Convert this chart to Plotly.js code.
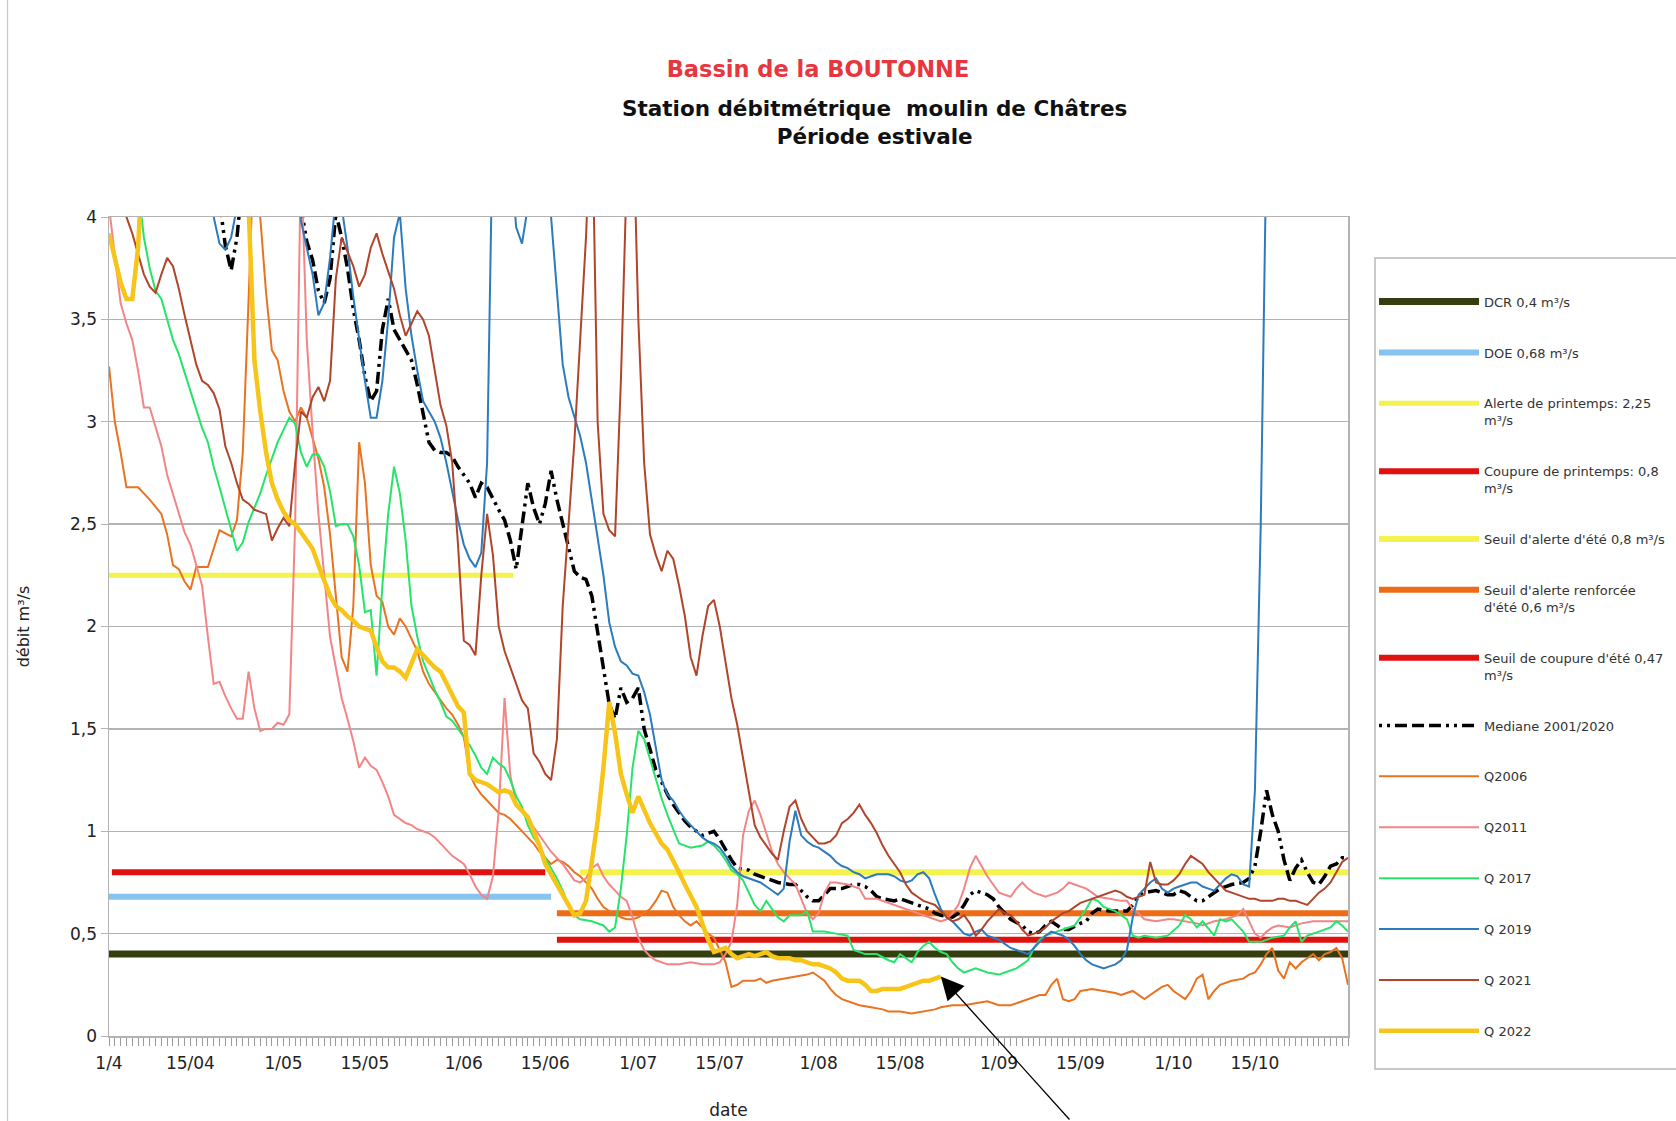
<!DOCTYPE html>
<html><head><meta charset="utf-8">
<script src="https://cdn.plot.ly/plotly-3.0.1.min.js"></script>
<style>html,body{margin:0;padding:0;background:#fff;}#chart{width:1676px;height:1121px;}</style>
</head><body><div id="chart"></div>
<script>
// ---------- DATA (day offsets from 1 April) ----------
const tickDays = [0,14,30,44,61,75,91,105,122,136,153,167,183,197];
const tickLabels = ['1/4','15/04','1/05','15/05','1/06','15/06','1/07','15/07','1/08','15/08','1/09','15/09','1/10','15/10'];

const thresholdNames = ['DCR 0,4 m³/s','DOE 0,68 m³/s','Alerte de printemps: 2,25<br>m³/s','Coupure de printemps: 0,8<br>m³/s',"Seuil d'alerte d'été 0,8 m³/s","Seuil d'alerte renforcée<br>d'été 0,6 m³/s","Seuil de coupure d'été 0,47<br>m³/s"];
const thresholdValues = [0.4, 0.68, 2.25, 0.8, 0.8, 0.6, 0.47];
const thresholdStartDays = [0, 0, 0, 0.5, 81, 77, 77];
const thresholdEndDays = [213, 76, 69.5, 75, 213, 213, 213];

const seriesNames = ['Mediane 2001/2020','Q2006','Q2011','Q 2017','Q 2019','Q 2021','Q 2022'];

const medianDays = [18,20,21,22,23,32,33,34,35,36,37,38,39,40,41,42,43,44,45,46,47,48,49,50,51,52,53,54,55,56,57,58,59,60,61,62,63,64,65,66,67,68,69,70,71,72,73,74,75,76,77,78,79,80,81,82,83,84,85,86,87,88,89,90,91,92,93,94,95,96,97,98,99,100,101,102,103,104,105,106,107,108,110,111,113,115,117,118,119,120,121,122,123,124,126,128,129,130,131,132,133,135,136,137,139,141,142,143,145,146,147,148,149,150,151,152,153,154,155,157,158,159,160,161,162,163,164,165,167,168,169,170,172,175,176,177,178,180,182,183,184,185,186,187,188,189,190,191,193,195,196,197,198,199,200,201,202,203,204,205,206,207,208,209,210,211,212,213];
const medianVals = [4.3,3.86,3.74,3.9,4.2,4.3,4.05,3.88,3.79,3.64,3.58,3.7,4.02,3.9,3.75,3.55,3.4,3.22,3.1,3.15,3.45,3.6,3.45,3.4,3.35,3.3,3.18,3.05,2.9,2.86,2.85,2.85,2.83,2.78,2.74,2.7,2.63,2.7,2.68,2.62,2.57,2.52,2.42,2.28,2.48,2.7,2.58,2.5,2.6,2.76,2.62,2.5,2.38,2.27,2.24,2.23,2.15,1.97,1.8,1.62,1.55,1.7,1.63,1.65,1.7,1.5,1.4,1.3,1.24,1.18,1.13,1.09,1.05,1.02,1.0,0.98,0.99,1.0,0.96,0.91,0.86,0.82,0.81,0.79,0.77,0.75,0.74,0.74,0.71,0.68,0.66,0.66,0.69,0.72,0.72,0.74,0.74,0.73,0.71,0.68,0.67,0.66,0.67,0.66,0.64,0.62,0.6,0.59,0.58,0.6,0.64,0.69,0.71,0.7,0.69,0.67,0.63,0.6,0.57,0.54,0.51,0.5,0.51,0.54,0.56,0.54,0.52,0.52,0.55,0.56,0.6,0.62,0.61,0.61,0.64,0.68,0.7,0.71,0.69,0.69,0.71,0.7,0.68,0.66,0.66,0.68,0.7,0.72,0.74,0.75,0.77,0.83,1.0,1.2,1.08,1.0,0.86,0.76,0.82,0.86,0.8,0.75,0.74,0.78,0.83,0.84,0.87,0.87];

const q2006Days = [0,1,2,3,5,7,9,10,11,12,13,14,15,17,19,21,22,23,24,25,26,27,28,29,30,31,32,33,34,35,36,37,38,39,40,41,42,43,44,45,46,47,48,49,50,51,52,53,54,55,56,57,58,59,60,61,62,63,64,65,66,67,68,69,70,71,72,73,74,75,76,77,78,79,80,81,82,83,84,85,86,87,88,89,90,91,92,93,94,95,96,97,98,99,100,101,102,103,104,105,106,107,108,109,111,112,113,114,116,118,120,121,122,123,124,125,126,127,129,131,133,134,136,138,140,142,143,145,147,149,151,153,155,157,158,159,160,161,162,163,164,165,166,167,169,171,173,174,176,178,180,181,182,183,184,185,186,187,188,189,190,191,193,195,196,197,198,199,200,201,202,203,204,205,206,207,208,209,210,211,212,213];
const q2006Vals = [3.27,3.0,2.85,2.68,2.68,2.62,2.55,2.45,2.3,2.28,2.22,2.18,2.29,2.29,2.47,2.44,2.52,2.85,3.6,4.4,4.0,3.63,3.35,3.3,3.15,3.05,3.0,3.07,3.02,2.92,2.82,2.68,2.45,2.15,1.85,1.78,2.1,2.9,2.7,2.3,2.15,2.12,2.0,1.96,2.04,2.0,1.94,1.88,1.78,1.72,1.68,1.64,1.6,1.57,1.52,1.46,1.28,1.22,1.18,1.15,1.12,1.09,1.08,1.06,1.03,1.0,0.97,0.94,0.9,0.87,0.84,0.86,0.85,0.83,0.8,0.78,0.75,0.72,0.67,0.63,0.61,0.6,0.58,0.57,0.57,0.58,0.6,0.62,0.66,0.71,0.7,0.63,0.59,0.56,0.54,0.56,0.53,0.5,0.48,0.42,0.36,0.24,0.25,0.27,0.27,0.28,0.26,0.27,0.28,0.29,0.3,0.31,0.29,0.27,0.23,0.2,0.18,0.17,0.15,0.14,0.13,0.12,0.12,0.11,0.12,0.13,0.14,0.15,0.15,0.16,0.17,0.15,0.15,0.17,0.18,0.19,0.2,0.2,0.25,0.28,0.18,0.17,0.18,0.22,0.23,0.22,0.21,0.2,0.22,0.18,0.22,0.24,0.25,0.22,0.2,0.18,0.22,0.28,0.3,0.18,0.22,0.25,0.27,0.28,0.3,0.31,0.35,0.4,0.43,0.32,0.28,0.36,0.33,0.36,0.38,0.4,0.37,0.4,0.41,0.43,0.38,0.25];

const q2011Days = [0,1,2,3,4,5,6,7,8,9,10,11,12,13,14,15,16,17,18,19,20,21,22,23,24,25,26,27,28,29,30,31,32,33,34,35,36,37,38,39,40,41,42,43,44,45,46,47,48,49,50,51,52,53,54,55,56,57,58,59,60,61,62,63,64,65,66,67,68,69,70,71,72,73,74,75,76,77,78,79,80,81,82,83,84,85,86,87,88,89,90,91,92,93,94,95,96,98,100,102,104,105,106,107,108,109,110,111,112,113,114,115,116,117,118,119,120,121,122,123,124,125,127,129,130,132,134,136,138,140,142,143,144,145,146,147,148,149,150,151,152,153,155,156,157,158,159,161,163,164,165,166,168,169,170,172,174,175,176,177,178,180,182,183,185,187,188,190,192,194,195,196,197,198,199,200,201,203,205,207,210,213];
const q2011Vals = [4.05,3.82,3.58,3.48,3.4,3.25,3.07,3.07,2.97,2.88,2.74,2.65,2.56,2.46,2.4,2.3,2.2,1.95,1.72,1.73,1.66,1.6,1.55,1.55,1.78,1.6,1.49,1.5,1.5,1.53,1.52,1.57,2.5,4.3,3.4,2.95,2.55,2.25,1.95,1.8,1.65,1.55,1.44,1.31,1.36,1.32,1.3,1.24,1.17,1.08,1.06,1.04,1.03,1.01,1.0,0.99,0.97,0.94,0.91,0.88,0.86,0.84,0.79,0.73,0.69,0.67,0.78,1.1,1.65,1.27,1.14,1.1,1.06,1.02,0.98,0.94,0.9,0.87,0.84,0.8,0.76,0.75,0.77,0.82,0.84,0.78,0.74,0.71,0.68,0.66,0.58,0.48,0.42,0.39,0.37,0.36,0.35,0.35,0.36,0.35,0.35,0.36,0.4,0.46,0.64,0.98,1.1,1.15,1.08,0.99,0.9,0.84,0.8,0.77,0.74,0.67,0.6,0.57,0.6,0.7,0.75,0.75,0.74,0.72,0.67,0.67,0.65,0.63,0.61,0.59,0.57,0.56,0.57,0.6,0.64,0.72,0.82,0.88,0.83,0.78,0.74,0.7,0.68,0.72,0.75,0.72,0.7,0.68,0.7,0.72,0.75,0.74,0.72,0.7,0.68,0.67,0.66,0.66,0.62,0.6,0.57,0.56,0.57,0.57,0.56,0.55,0.54,0.56,0.57,0.59,0.62,0.56,0.5,0.48,0.51,0.53,0.54,0.53,0.55,0.56,0.56,0.56];

const q2017Days = [4,6,7,8,9,10,11,12,13,14,15,16,17,18,19,20,21,22,23,24,25,26,27,28,29,30,31,32,33,34,35,36,37,38,39,40,41,42,43,44,45,46,47,48,49,50,51,52,53,54,55,56,57,58,59,60,61,62,63,64,65,66,67,68,69,70,71,72,73,74,75,76,77,78,79,80,81,83,85,86,87,88,89,90,91,92,93,94,95,96,97,98,100,102,103,104,105,106,107,108,109,110,111,112,113,114,115,116,117,119,120,121,123,125,127,128,130,132,134,135,136,137,138,139,140,141,142,143,144,145,146,147,149,151,153,154,156,157,158,159,160,161,163,165,166,167,168,169,170,171,172,173,175,176,177,178,180,182,184,185,186,187,188,190,191,192,193,194,195,196,198,200,202,203,204,205,206,208,210,211,212,213];
const q2017Vals = [4.4,3.9,3.75,3.64,3.6,3.5,3.4,3.33,3.24,3.15,3.05,2.97,2.9,2.78,2.68,2.58,2.48,2.37,2.41,2.51,2.58,2.65,2.74,2.82,2.9,2.96,3.02,2.99,2.85,2.78,2.84,2.84,2.78,2.66,2.49,2.5,2.5,2.44,2.3,2.07,2.08,1.76,2.2,2.55,2.78,2.65,2.42,2.1,1.95,1.83,1.76,1.69,1.63,1.56,1.54,1.5,1.46,1.42,1.37,1.31,1.28,1.36,1.33,1.31,1.25,1.17,1.12,1.03,0.97,0.93,0.87,0.82,0.77,0.71,0.64,0.59,0.57,0.56,0.54,0.51,0.53,0.72,0.98,1.31,1.49,1.45,1.35,1.25,1.16,1.08,1.01,0.94,0.92,0.93,0.95,0.93,0.9,0.86,0.81,0.79,0.76,0.7,0.64,0.61,0.66,0.62,0.58,0.56,0.59,0.59,0.61,0.51,0.51,0.5,0.49,0.42,0.4,0.4,0.37,0.36,0.4,0.38,0.36,0.41,0.44,0.46,0.43,0.41,0.4,0.36,0.33,0.31,0.33,0.31,0.3,0.31,0.33,0.35,0.37,0.43,0.47,0.49,0.51,0.53,0.54,0.58,0.62,0.67,0.66,0.63,0.62,0.61,0.57,0.49,0.48,0.49,0.48,0.49,0.54,0.59,0.57,0.53,0.56,0.49,0.57,0.56,0.57,0.54,0.51,0.46,0.46,0.48,0.49,0.53,0.56,0.46,0.49,0.51,0.53,0.56,0.54,0.51];

const q2019Days = [16,18,19,20,21,22,24,32,33,34,35,36,37,38,39,40,41,42,43,44,45,46,47,48,49,50,51,52,53,54,55,56,57,58,59,60,61,62,63,64,65,66,69,70,71,72,73,75,76,77,78,79,80,81,82,83,84,85,86,87,88,89,90,91,92,93,94,95,96,97,98,99,100,101,102,103,104,105,106,107,108,109,110,111,112,113,114,115,116,117,118,119,120,121,122,123,124,125,126,127,128,129,130,131,132,134,135,136,137,138,139,140,141,142,143,144,145,146,147,148,149,150,151,152,153,154,155,156,157,158,159,160,161,162,163,164,165,166,167,168,169,170,171,172,173,174,175,176,177,178,179,180,181,182,183,184,185,186,187,188,189,190,191,192,193,194,195,196,197,198,199];
const q2019Vals = [4.4,4.0,3.87,3.84,3.9,4.05,4.5,4.4,3.98,3.85,3.72,3.52,3.58,3.8,4.1,4.05,3.85,3.61,3.4,3.2,3.02,3.02,3.2,3.5,3.9,4.02,3.65,3.42,3.25,3.1,3.05,3.0,2.92,2.8,2.66,2.52,2.4,2.33,2.29,2.36,2.8,4.5,4.3,3.95,3.87,4.05,4.4,4.4,4.0,3.65,3.28,3.12,3.03,2.93,2.8,2.62,2.45,2.25,2.02,1.9,1.83,1.81,1.77,1.76,1.68,1.57,1.41,1.25,1.18,1.15,1.1,1.06,1.03,1.0,0.97,0.95,0.94,0.92,0.88,0.83,0.8,0.78,0.77,0.76,0.75,0.73,0.71,0.69,0.72,0.95,1.1,0.98,0.95,0.93,0.92,0.9,0.88,0.85,0.83,0.82,0.8,0.79,0.77,0.78,0.79,0.79,0.78,0.76,0.75,0.76,0.79,0.8,0.77,0.69,0.62,0.58,0.56,0.53,0.5,0.49,0.51,0.52,0.49,0.48,0.47,0.45,0.43,0.42,0.41,0.4,0.43,0.46,0.49,0.51,0.5,0.49,0.47,0.44,0.4,0.37,0.35,0.34,0.33,0.34,0.35,0.37,0.42,0.58,0.69,0.72,0.75,0.77,0.72,0.7,0.72,0.73,0.74,0.75,0.75,0.73,0.72,0.71,0.74,0.77,0.79,0.78,0.74,0.73,1.2,2.5,4.4];

const q2021Days = [1,3,4,5,6,7,8,9,10,11,12,13,14,15,16,17,18,19,20,21,22,23,24,25,26,27,28,29,30,31,32,33,34,35,36,37,38,39,40,41,42,43,44,45,46,47,48,49,50,51,52,53,54,55,56,57,58,59,60,61,62,63,64,65,66,67,68,69,70,71,72,73,74,75,76,77,78,79,80,81,82,83,84,85,86,87,88,89,90,91,92,93,94,95,96,97,98,99,100,101,102,103,104,105,106,107,108,109,110,111,112,113,114,115,116,117,118,119,120,121,122,123,124,125,126,127,128,129,130,131,132,133,134,135,136,137,138,139,140,141,142,143,144,145,146,147,148,149,150,151,152,153,154,155,156,157,158,159,160,161,162,163,164,165,166,167,168,169,170,171,172,173,174,175,176,177,178,179,180,181,182,183,184,185,186,187,188,189,190,191,192,193,194,195,196,197,198,199,200,201,202,203,204,205,206,207,208,209,210,211,212,213];
const q2021Vals = [4.3,4.0,3.92,3.82,3.72,3.66,3.63,3.72,3.8,3.76,3.65,3.52,3.4,3.28,3.2,3.18,3.14,3.06,2.88,2.8,2.7,2.62,2.6,2.57,2.56,2.55,2.42,2.48,2.53,2.49,2.8,3.05,3.02,3.12,3.17,3.1,3.2,3.7,3.9,3.83,3.76,3.66,3.72,3.85,3.92,3.82,3.73,3.65,3.52,3.42,3.48,3.54,3.5,3.42,3.25,3.08,2.98,2.8,2.4,1.93,1.91,1.86,2.25,2.55,2.35,2.0,1.88,1.8,1.72,1.64,1.6,1.38,1.34,1.28,1.25,1.45,2.1,2.5,2.9,3.4,3.9,4.6,3.0,2.55,2.47,2.44,3.2,4.2,4.6,3.5,2.8,2.45,2.35,2.27,2.37,2.33,2.2,2.05,1.85,1.76,1.95,2.1,2.13,2.0,1.83,1.65,1.52,1.35,1.18,1.03,0.97,0.93,0.89,0.86,1.0,1.12,1.15,1.06,1.0,0.97,0.94,0.94,0.95,0.98,1.04,1.06,1.09,1.13,1.08,1.04,0.99,0.93,0.88,0.84,0.8,0.74,0.7,0.68,0.66,0.65,0.64,0.61,0.58,0.56,0.57,0.59,0.55,0.49,0.52,0.56,0.59,0.62,0.6,0.59,0.56,0.52,0.49,0.5,0.51,0.53,0.56,0.58,0.6,0.61,0.63,0.65,0.66,0.67,0.68,0.69,0.7,0.71,0.7,0.68,0.67,0.68,0.69,0.85,0.75,0.74,0.74,0.76,0.79,0.84,0.88,0.86,0.84,0.8,0.77,0.74,0.71,0.7,0.69,0.68,0.67,0.67,0.66,0.66,0.66,0.67,0.67,0.66,0.66,0.65,0.64,0.67,0.7,0.72,0.75,0.8,0.85,0.87];

const q2022Days = [0,1,2,3,4,5,6,23,24,25,26,27,28,29,30,31,32,33,34,35,36,37,38,39,40,41,42,43,44,45,46,47,48,49,50,51,52,53,54,55,56,57,58,59,60,61,62,63,64,65,66,67,68,69,70,71,72,73,74,75,76,77,78,79,80,81,82,83,84,85,86,87,88,89,90,91,92,93,94,95,96,97,98,99,100,101,102,103,104,105,106,107,108,109,110,111,112,113,114,115,116,117,118,119,120,121,122,123,124,125,126,127,128,129,130,131,132,133,134,135,136,137,138,139,140,141,142,143];
const q2022Vals = [3.92,3.8,3.68,3.6,3.6,3.85,4.4,4.6,4.05,3.3,3.05,2.85,2.7,2.62,2.56,2.52,2.5,2.46,2.42,2.38,2.3,2.22,2.15,2.1,2.08,2.05,2.03,2.0,1.99,1.98,1.9,1.83,1.8,1.8,1.78,1.75,1.82,1.89,1.86,1.83,1.8,1.78,1.72,1.66,1.61,1.58,1.28,1.25,1.24,1.23,1.21,1.19,1.2,1.19,1.13,1.1,1.07,1.0,0.93,0.84,0.79,0.73,0.68,0.63,0.59,0.6,0.66,0.85,1.05,1.31,1.63,1.48,1.28,1.18,1.09,1.17,1.1,1.04,0.99,0.94,0.91,0.86,0.8,0.74,0.69,0.63,0.55,0.47,0.41,0.42,0.43,0.4,0.38,0.39,0.4,0.39,0.4,0.41,0.39,0.38,0.38,0.38,0.37,0.37,0.36,0.35,0.35,0.34,0.33,0.31,0.28,0.27,0.27,0.27,0.25,0.22,0.22,0.23,0.23,0.23,0.23,0.24,0.25,0.26,0.27,0.27,0.28,0.29];

// ---------- STYLES ----------
const thresholdColors = ['#343e0e','#85c4ee','#f4f24c','#e0120f','#f4f24c','#ee6c17','#e0120f'];
const thresholdWidths = [7, 6, 5, 6, 6, 6, 6];
const seriesColors = ['#000000','#e97320','#f28585','#26e46a','#2b7bbd','#b0452b','#f7c51a'];
const seriesWidths = [3.5, 2, 2, 2, 2, 2, 4.5];

const seasonStartUTC = Date.UTC(2022, 3, 1);
function dayToDate(d) { return new Date(seasonStartUTC + d * 86400000).toISOString().replace('Z', ''); }

const traces = [];
thresholdNames.forEach((n, i) => {
  traces.push({
    type: 'scatter', mode: 'lines', name: n, legendgroup: 'g' + i,
    x: [dayToDate(thresholdStartDays[i]), dayToDate(thresholdEndDays[i])],
    y: [thresholdValues[i], thresholdValues[i]],
    line: { color: thresholdColors[i], width: thresholdWidths[i] },
    hoverinfo: 'name+y'
  });
});
const seriesDays = [medianDays, q2006Days, q2011Days, q2017Days, q2019Days, q2021Days, q2022Days];
const seriesVals = [medianVals, q2006Vals, q2011Vals, q2017Vals, q2019Vals, q2021Vals, q2022Vals];
seriesNames.forEach((n, i) => {
  const line = { color: seriesColors[i], width: seriesWidths[i] };
  if (i === 0) line.dash = '3px,5px,3px,5px,12px,5px,12px,5px,12px,5px';
  traces.push({
    type: 'scatter', mode: 'lines', name: n, legendgroup: 's' + i,
    x: seriesDays[i].map(dayToDate), y: seriesVals[i], line: line,
    hoverinfo: 'name+x+y'
  });
});

const last = q2022Days.length - 1;
const layout = {
  width: 1676, height: 1121,
  margin: { l: 109, r: 328, t: 217, b: 85, autoexpand: false },
  paper_bgcolor: '#ffffff', plot_bgcolor: '#ffffff',
  font: { family: 'DejaVu Sans', color: '#222' },
  separators: ', ',
  showlegend: true,
  title: {
    text: '<b>Bassin de la BOUTONNE</b>',
    font: { family: 'DejaVu Sans', size: 22.5, color: '#e8363e' },
    x: 818 / 1676, xref: 'container', xanchor: 'center',
    y: 1 - 69 / 1121, yref: 'container', yanchor: 'middle'
  },
  xaxis: {
    type: 'date', range: [dayToDate(0), dayToDate(213)],
    tickmode: 'array', tickvals: tickDays.map(dayToDate), ticktext: tickLabels,
    ticks: 'outside', ticklen: 8, tickcolor: '#999', tickwidth: 1,
    tickfont: { size: 17, color: '#222' }, ticklabelstandoff: 3,
    minor: { tickmode: 'linear', tick0: dayToDate(0), dtick: 86400000, ticks: 'outside', ticklen: 8, tickcolor: '#999', tickwidth: 1, showgrid: false },
    showgrid: false, zeroline: false,
    showline: true, linecolor: '#b3b3b3', linewidth: 1.5, mirror: true,
    title: { text: 'date', font: { size: 17, color: '#222' }, standoff: 32 }
  },
  yaxis: {
    range: [0, 4], tick0: 0, dtick: 0.5,
    ticks: 'outside', ticklen: 7, tickcolor: '#b3b3b3',
    tickfont: { size: 17, color: '#222' },
    showgrid: true, gridcolor: '#b3b3b3', gridwidth: 1.3, zeroline: false,
    showline: true, linecolor: '#b3b3b3', linewidth: 1.5, mirror: true,
    title: { text: 'débit m³/s', font: { size: 16, color: '#222' }, standoff: 36 }
  },
  legend: {
    x: 1.021, xanchor: 'left', y: 0.915, yanchor: 'top',
    bgcolor: 'rgba(0,0,0,0)', borderwidth: 0,
    font: { size: 13, color: '#333' },
    tracegroupgap: 31, itemwidth: 100, valign: 'top', traceorder: 'grouped'
  },
  shapes: [
    { type: 'rect', xref: 'paper', yref: 'paper', x0: 1.0218, x1: 1.3, y0: -0.0403, y1: 0.9499, line: { color: '#b8b8b8', width: 1.5 }, fillcolor: 'rgba(0,0,0,0)', layer: 'below' },
    { type: 'line', xref: 'paper', yref: 'paper', x0: -0.0819, x1: -0.0819, y0: -0.11, y1: 1.27, line: { color: '#c8c8c8', width: 1.2 } }
  ],
  annotations: [
    { text: '<b>Station débitmétrique\u00a0 moulin de Châtres<br>Période estivale</b>', xref: 'paper', yref: 'paper', x: 0.618, y: 1.1148, xanchor: 'center', yanchor: 'middle', showarrow: false, font: { family: 'DejaVu Sans', size: 21.5, color: '#111' } },
    { text: '', x: dayToDate(q2022Days[last]), y: q2022Vals[last], xref: 'x', yref: 'y', showarrow: true, ax: 130, ay: 152, arrowhead: 2, arrowsize: 3.5, arrowwidth: 1.3, arrowcolor: '#000', standoff: 0 }
  ]
};

Plotly.newPlot('chart', traces, layout, { staticPlot: true, displayModeBar: false });
</script>
</body></html>
